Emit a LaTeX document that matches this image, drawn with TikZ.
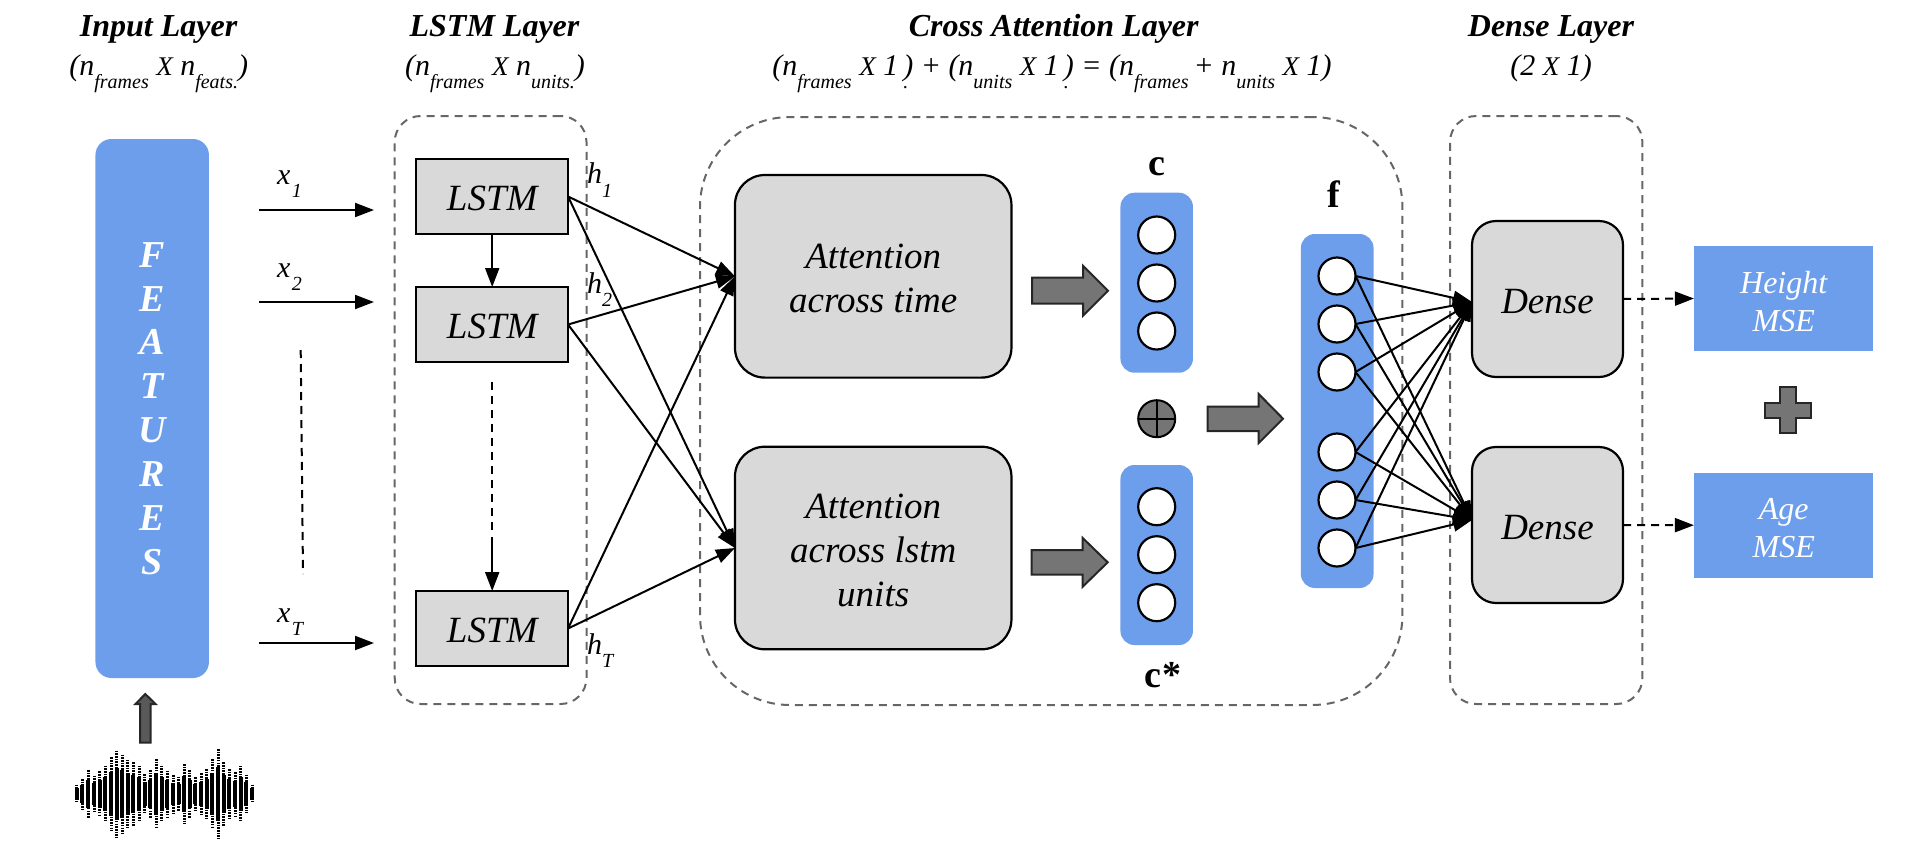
\documentclass[tikz,border=0pt]{standalone}
\usepackage{fontspec}
\setmainfont{Liberation Serif}
\usetikzlibrary{arrows.meta}
\definecolor{blueb}{HTML}{6D9EEB}
\definecolor{grayb}{HTML}{D9D9D9}
\definecolor{darkb}{HTML}{757575}
\definecolor{dashg}{HTML}{666666}
\newcommand{\sbs}[1]{\raisebox{-13.5pt}{\fontsize{20}{20}\selectfont #1}}
\newcommand{\fsb}[1]{\fontsize{#1}{#1}\selectfont}
\newcommand{\dn}[1]{\raisebox{-2.4pt}[\height][\depth]{#1}}
\tikzset{
  every node/.style={inner sep=0pt,outer sep=0pt},
  titletext/.style={anchor=base,font=\fsb{32}\bfseries\itshape},
  subtext/.style={anchor=base,font=\fsb{30}\itshape},
  vartext/.style={anchor=base west,font=\fsb{30}\itshape},
  boldtext/.style={anchor=base,font=\fsb{38}\bfseries},
  layerbox/.style={draw=dashg,line width=2pt,dash pattern=on 8pt off 6pt},
  graybox/.style={draw=black,fill=grayb,line width=2.2pt,align=center,font=\fontsize{37}{44}\selectfont\itshape},
  bluebox/.style={fill=blueb,text=white,align=center},
  neuron/.style={circle,draw=black,fill=white,line width=2.2pt,minimum size=37pt},
  arr/.style={-{Triangle[length=19pt,width=14pt]},line width=2pt,black},
  dasharr/.style={arr,dash pattern=on 8pt off 6pt},
  dashplain/.style={line width=2pt,black,dash pattern=on 8pt off 6pt},
  blockshape/.style={draw=black!85,fill=darkb,line width=2pt,line join=miter},
  wavebar/.style={line width=3pt,black,dash pattern=on 1.6pt off 1.1pt},
  wavecore/.style={line width=3.8pt,black}
}
\begin{document}
\begin{tikzpicture}[x=1pt,y=-1pt]
\useasboundingbox (0,0) rectangle (1920,844);

% titles
\node[titletext] (t1) at (158.6,36.7) {Input Layer};
\node[titletext] (t2) at (494.5,36.7) {LSTM Layer};
\node[titletext] (t3) at (1053.7,36.7) {Cross Attention Layer};
\node[titletext] (t4) at (1551,36.7) {Dense Layer};
\node[subtext] (s1) at (158.7,75) {(n\sbs{frames} {\fsb{27}X} n\sbs{feats.})};
\node[subtext] (s2) at (495,75) {(n\sbs{frames} {\fsb{27}X} n\sbs{units.})};
\node[subtext] (s3) at (1052,75) {(n\sbs{frames} {\fsb{27}X} 1\,\rlap{\sbs{.}}) + (n\sbs{units} {\fsb{27}X} 1\,\rlap{\sbs{.}}) = (n\sbs{frames}\,+ n\sbs{units} {\fsb{27}X} 1)};
\node[subtext] (s4) at (1551,75) {(2 {\fsb{27}X} 1)};

% dashed layers
\node[layerbox,rounded corners=26pt,minimum width=191.8pt,minimum height=588pt] (lstmlayer) at (490.6,410) {};
\node[layerbox,rounded corners=90pt,minimum width=702.4pt,minimum height=588pt] (crosslayer) at (1051.2,411) {};
\node[layerbox,rounded corners=26pt,minimum width=192.4pt,minimum height=588pt] (denselayer) at (1546.2,410) {};

% features
\node[bluebox,rounded corners=16pt,minimum width=113.5pt,minimum height=539pt,font=\fontsize{38}{43.9}\selectfont\bfseries\itshape] (feat) at (152.2,408.5) {F\\E\\A\\T\\U\\R\\E\\S};

% input arrows
\coordinate (x1a) at (259,210); \coordinate (x1b) at (374,210);
\coordinate (x2a) at (259,302); \coordinate (x2b) at (374,302);
\coordinate (x3a) at (259,643); \coordinate (x3b) at (374,643);
\draw[arr] (x1a) -- (x1b);
\draw[arr] (x2a) -- (x2b);
\draw[arr] (x3a) -- (x3b);
\node[vartext] (lx1) at (277,184) {x\sbs{\kern1.5pt 1}};
\node[vartext] (lx2) at (277,277) {x\sbs{\kern1.5pt 2}};
\node[vartext] (lx3) at (277,622) {x\sbs{\kern1.5pt T}};
\coordinate (va) at (300.7,350); \coordinate (vb) at (303,574);
\draw[dashplain] (va) -- (vb);

% LSTM boxes
\node[graybox,minimum width=151.7pt,minimum height=75pt] (l1) at (492.2,196.5) {\dn{LSTM}};
\node[graybox,minimum width=151.7pt,minimum height=75pt] (l2) at (492.2,324.5) {\dn{LSTM}};
\node[graybox,minimum width=151.7pt,minimum height=75pt] (l3) at (492.2,628.5) {\dn{LSTM}};
\draw[arr] (l1) -- (l2);
\coordinate (da) at (492.2,382.3); \coordinate (db) at (492.2,531); \coordinate (dc) at (492.2,537.3);
\draw[dashplain] (da) -- (db);
\draw[arr] (dc) -- (l3.north);
\node[vartext] (h1) at (587,183.5) {h\sbs{1}};
\node[vartext] (h2) at (587,293) {h\sbs{2}};
\node[vartext] (h3) at (587,654) {h\sbs{T}};

% attention
\node[graybox,rounded corners=30pt,minimum width=276.5pt,minimum height=202.6pt] (a1) at (873.2,276.3) {\dn{Attention}\\\dn{across time}};
\node[graybox,rounded corners=30pt,minimum width=276.5pt,minimum height=202.6pt] (a2) at (873.2,548) {\dn{Attention}\\\dn{across lstm}\\\dn{units}};
\foreach \s in {l1,l2,l3}{
  \draw[arr] (\s.east) -- (a1.west);
  \draw[arr] (\s.east) -- (a2.west);
}

% block arrows
\draw[blockshape] (1032,277.7) -- (1083,277.7) -- (1083,265.7) -- (1108,290.7) -- (1083,315.7) -- (1083,303.7) -- (1032,303.7) -- cycle;
\draw[blockshape] (1031.7,550) -- (1082.7,550) -- (1082.7,538) -- (1107.7,562.3) -- (1082.7,586.7) -- (1082.7,574.7) -- (1031.7,574.7) -- cycle;
\draw[blockshape] (1207.7,406.7) -- (1258.7,406.7) -- (1258.7,394) -- (1283,418.7) -- (1258.7,443) -- (1258.7,431) -- (1207.7,431) -- cycle;

% c boxes
\node[bluebox,rounded corners=14pt,minimum width=72.5pt,minimum height=180pt] (cb1) at (1156.7,282.7) {};
\node[bluebox,rounded corners=14pt,minimum width=72.5pt,minimum height=180pt] (cb2) at (1156.7,555) {};
\node[neuron] (c1) at (1156.7,235) {};
\node[neuron] (c2) at (1156.7,283) {};
\node[neuron] (c3) at (1156.7,331) {};
\node[neuron] (d1) at (1156.7,506.7) {};
\node[neuron] (d2) at (1156.7,554.7) {};
\node[neuron] (d3) at (1156.7,602.7) {};
\node[boldtext] (lc) at (1157,175) {c};
\node[boldtext] (lcs) at (1163,687) {c\kern1pt*};
\node[boldtext] (lf) at (1334,207) {f};

% oplus
\node[circle,draw=black,fill=darkb,line width=2pt,minimum size=37pt] (op) at (1156.7,418.7) {};
\draw[line width=2pt,black] (op.north) -- (op.south);
\draw[line width=2pt,black] (op.west) -- (op.east);

% f box
\node[bluebox,rounded corners=14pt,minimum width=72.7pt,minimum height=354pt] (fb) at (1337.2,411) {};
\node[neuron] (f1) at (1337,276) {};
\node[neuron] (f2) at (1337,324) {};
\node[neuron] (f3) at (1337,372) {};
\node[neuron] (f4) at (1337,452) {};
\node[neuron] (f5) at (1337,500) {};
\node[neuron] (f6) at (1337,548) {};

% dense
\node[graybox,rounded corners=24pt,minimum width=151pt,minimum height=156pt] (n1) at (1547.5,299) {\dn{Dense}};
\node[graybox,rounded corners=24pt,minimum width=151pt,minimum height=156pt] (n2) at (1547.5,525) {\dn{Dense}};
\foreach \s in {f1,f2,f3,f4,f5,f6}{
  \draw[arr] (\s.east) -- ([yshift=-3pt]n1.west);
  \draw[arr] (\s.east) -- ([yshift=5pt]n2.west);
}

% outputs
\node[bluebox,minimum width=179.5pt,minimum height=105pt,font=\fontsize{32}{38}\selectfont\itshape] (oh) at (1783.7,298.5) {\raisebox{-3pt}[\height][\depth]{Height}\\\raisebox{-3pt}[\height][\depth]{MSE}};
\node[bluebox,minimum width=179.5pt,minimum height=105pt,font=\fontsize{32}{38}\selectfont\itshape] (oa) at (1783.7,525.2) {\raisebox{-3pt}[\height][\depth]{Age}\\\raisebox{-3pt}[\height][\depth]{MSE}};
\draw[dasharr] (n1.east) -- (oh.west);
\draw[dasharr] (n2.east) -- (oa.west);

% plus
\draw[blockshape] (1780.2,387) -- (1795.8,387) -- (1795.8,402.5) -- (1811,402.5) -- (1811,417.5) -- (1795.8,417.5) -- (1795.8,433) -- (1780.2,433) -- (1780.2,417.5) -- (1765,417.5) -- (1765,402.5) -- (1780.2,402.5) -- cycle;

% input block arrow
\draw[draw=black!85,fill=black!65,line width=2pt,line join=miter] (140,742.7) -- (140,704) -- (135.5,704) -- (145.3,694) -- (155.5,704) -- (150.6,704) -- (150.6,742.7) -- cycle;

% waveform
\foreach \zx/\zh in {50/28,67/45,85/72,102/55,119/68,136/85,153/110,170/130,186/118,203/103,220/95,237/85,254/60,271/72,288/105,305/85,322/70,339/57,356/52,372/90,389/72,406/50,423/62,440/75,457/105,474/135,491/95,508/75,525/65,542/85,559/58,576/28}{
  \draw[wavebar] (60+\zx/3,794-\zh/3) -- (60+\zx/3,794+\zh/3);
  \draw[wavecore] (60+\zx/3,794-0.6*\zh/3) -- (60+\zx/3,794+0.6*\zh/3);
}
\end{tikzpicture}
\end{document}
